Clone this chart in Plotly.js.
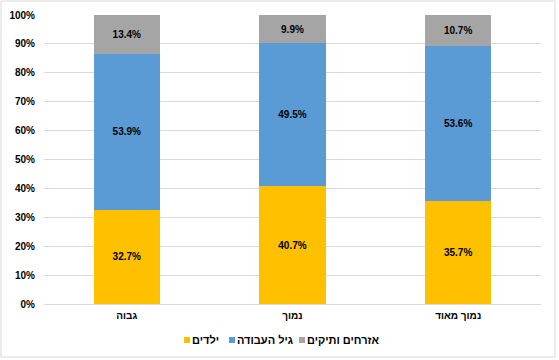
<!DOCTYPE html>
<html>
<head>
<meta charset="utf-8">
<script src="https://cdn.plot.ly/plotly-3.0.1.min.js"></script>
<style>
  html, body { margin: 0; padding: 0; background: #fff; }
  #chart { width: 559px; height: 360px; }
</style>
</head>
<body>
<div id="chart"></div>
<script>
const categories = ["גבוה", "נמוך", "נמוך מאוד"];
const seriesNames = ["ילדים", "גיל העבודה", "אזרחים ותיקים"];
const children = [32.7, 40.7, 35.7];
const workingAge = [53.9, 49.5, 53.6];
const seniors = [13.4, 9.9, 10.7];
const yTickValues = [0, 10, 20, 30, 40, 50, 60, 70, 80, 90, 100];
const yTickLabels = ["0%", "10%", "20%", "30%", "40%", "50%", "60%", "70%", "80%", "90%", "100%"];

const colors = ["#FFC000", "#5B9BD5", "#A5A5A5"];
const seriesValues = [children, workingAge, seniors];

const FONT = "Liberation Sans, Arial, DejaVu Sans, sans-serif";

const traces = seriesValues.map((vals, i) => ({
  type: "bar",
  name: seriesNames[i],
  x: categories,
  y: vals,
  marker: { color: colors[i] },
  width: 0.40,
  text: vals.map(v => v.toFixed(1) + "%"),
  textposition: "inside",
  insidetextanchor: "middle",
  textangle: 0,
  textfont: { family: FONT, size: 10, color: "#000", weight: "bold" },
  hoverinfo: "skip",
  showlegend: false
}));

const W = 559, H = 360, L = 44, R = 18, T = 15, B = 56;
const pw = W - L - R, ph = H - T - B;
const px = p => (p - L) / pw;
const py = p => (H - B - p) / ph;

// custom legend (left-to-right: yellow, blue, gray), marker left of text
const legendSquareX = [187, 232, 302];
const legendTextX = [190, 235, 305];
const legendY = 340;
const sq = 3;

const shapes = [{
  type: "rect", xref: "paper", yref: "paper",
  x0: px(1), x1: px(555), y0: py(357), y1: py(1),
  line: { color: "#D9D9D9", width: 1 },
  fillcolor: "rgba(0,0,0,0)",
  layer: "below"
}];
const annotations = [];
seriesNames.forEach((name, i) => {
  shapes.push({
    type: "rect", xref: "paper", yref: "paper",
    x0: px(legendSquareX[i] - sq), x1: px(legendSquareX[i] + sq),
    y0: py(legendY + sq), y1: py(legendY - sq),
    line: { width: 0 }, fillcolor: colors[i]
  });
  annotations.push({
    xref: "paper", yref: "paper",
    x: px(legendTextX[i]), y: py(legendY),
    xanchor: "left", yanchor: "middle",
    text: name, showarrow: false,
    font: { family: FONT, size: 11, color: "#000", weight: "bold" }
  });
});

const layout = {
  width: W, height: H,
  margin: { l: L, r: R, t: T, b: B, pad: 0, autoexpand: false },
  barmode: "stack",
  paper_bgcolor: "#fff",
  plot_bgcolor: "#fff",
  showlegend: false,
  font: { family: FONT, size: 10, color: "#000" },
  xaxis: {
    type: "category",
    showgrid: false,
    showline: false,
    zeroline: false,
    ticks: "",
    ticklabelstandoff: 4,
    tickfont: { family: FONT, size: 10, color: "#000", weight: "bold" },
    fixedrange: true
  },
  yaxis: {
    range: [0, 100],
    tickvals: yTickValues,
    ticktext: yTickLabels,
    showgrid: true,
    gridcolor: "#D9D9D9",
    gridwidth: 1,
    zeroline: true,
    zerolinecolor: "#D9D9D9",
    zerolinewidth: 1,
    showline: false,
    ticks: "",
    ticklabelstandoff: 8,
    tickfont: { family: FONT, size: 10, color: "#000", weight: "bold" },
    fixedrange: true
  },
  shapes: shapes,
  annotations: annotations,
  hovermode: false
};

Plotly.newPlot("chart", traces, layout, { displayModeBar: false, staticPlot: true });
</script>
</body>
</html>
